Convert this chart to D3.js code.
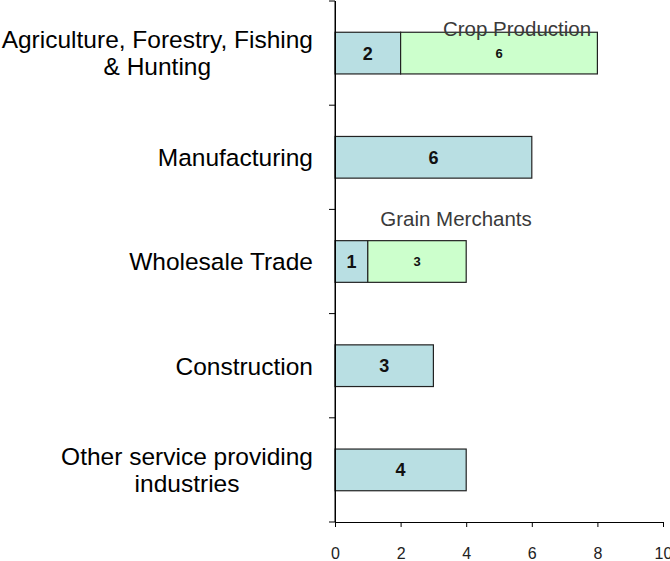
<!DOCTYPE html>
<head>
<meta charset="utf-8" />
<script src="https://d3js.org/d3.v7.min.js"></script>
<style>
  body { margin: 0; background: #fff; }
  text { font-family: "Liberation Sans", Arial, sans-serif; }
  .axis path, .axis line { stroke: #000; }
</style>
</head>
<body>
<svg width="670" height="561"></svg>
<script>
  // chart data
  var categories = [
    ["Agriculture, Forestry, Fishing", "& Hunting"],
    ["Manufacturing"],
    ["Wholesale Trade"],
    ["Construction"],
    ["Other service providing", "industries"]
  ];
  var industryValues = [2, 6, 1, 3, 4];
  var subsectorValues = [6, 0, 3, 0, 0];
  var subsectorNames = ["Crop Production", "", "Grain Merchants", "", ""];
  var xTicks = [0, 2, 4, 6, 8, 10];

  var svg = d3.select("svg");
  var plotLeft = 335, plotRight = 663, plotTop = 1, plotBottom = 522;

  var x = d3.scaleLinear().domain([0, 10]).range([plotLeft, plotRight]);
  var y = d3.scaleBand()
    .domain(d3.range(categories.length))
    .range([plotTop, plotBottom])
    .paddingInner(0.6)
    .paddingOuter(0.3);

  var rows = categories.map(function(c, i) {
    return {label: c, a: industryValues[i], b: subsectorValues[i], name: subsectorNames[i], i: i};
  });

  // x axis
  svg.append("g")
    .attr("class", "axis")
    .attr("transform", "translate(0," + plotBottom + ")")
    .call(d3.axisBottom(x).tickValues(xTicks).tickSize(5).tickSizeOuter(0).tickPadding(21))
    .call(function(g) {
      g.selectAll("text").style("font-size", "16px").attr("fill", "#222")
        .style("font-family", "'Liberation Sans', Arial, sans-serif");
    });

  // y axis line + boundary ticks
  svg.append("line")
    .attr("x1", plotLeft).attr("x2", plotLeft)
    .attr("y1", plotTop).attr("y2", plotBottom)
    .attr("stroke", "#000");
  var step = y.step();
  svg.selectAll(".ytick")
    .data(d3.range(categories.length + 1))
    .enter().append("line")
    .attr("x1", plotLeft - 6).attr("x2", plotLeft)
    .attr("y1", function(d) { return plotTop + d * step; })
    .attr("y2", function(d) { return plotTop + d * step; })
    .attr("stroke", "#000");

  var bars = svg.selectAll(".row").data(rows).enter().append("g");

  bars.append("rect")
    .attr("x", x(0))
    .attr("y", function(d) { return y(d.i); })
    .attr("width", function(d) { return x(d.a) - x(0); })
    .attr("height", y.bandwidth())
    .attr("fill", "#b9dfe3")
    .attr("stroke", "#222")
    .attr("stroke-width", 1.2);

  bars.filter(function(d) { return d.b > 0; }).append("rect")
    .attr("x", function(d) { return x(d.a); })
    .attr("y", function(d) { return y(d.i); })
    .attr("width", function(d) { return x(d.a + d.b) - x(d.a); })
    .attr("height", y.bandwidth())
    .attr("fill", "#ccffcc")
    .attr("stroke", "#222")
    .attr("stroke-width", 1.2);

  // thicker left edge
  svg.append("line")
    .attr("x1", plotLeft + 0.5).attr("x2", plotLeft + 0.5)
    .attr("y1", plotTop).attr("y2", plotBottom)
    .attr("stroke", "#000").attr("stroke-width", 1);

  bars.append("text")
    .attr("x", function(d) { return (x(0) + x(d.a)) / 2; })
    .attr("y", function(d) { return y(d.i) + y.bandwidth() / 2; })
    .attr("dy", "0.36em")
    .attr("text-anchor", "middle")
    .style("font-size", "18px")
    .style("font-weight", "bold")
    .attr("fill", "#111")
    .text(function(d) { return d.a; });

  bars.filter(function(d) { return d.b > 0; }).append("text")
    .attr("x", function(d) { return (x(d.a) + x(d.a + d.b)) / 2; })
    .attr("y", function(d) { return y(d.i) + y.bandwidth() / 2; })
    .attr("dy", "0.36em")
    .attr("text-anchor", "middle")
    .style("font-size", "13px")
    .style("font-weight", "bold")
    .attr("fill", "#111")
    .text(function(d) { return d.b; });

  // subsector annotations
  var noteCenter = {0: 5.55, 2: 3.69};
  var noteShift = {0: 4, 2: -15};
  bars.filter(function(d) { return d.name; }).append("text")
    .attr("x", function(d) { return x(noteCenter[d.i]); })
    .attr("y", function(d) { return y(d.i) + noteShift[d.i]; })
    .attr("text-anchor", "middle")
    .style("font-size", "20.5px")
    .attr("fill", "#3a3a3a")
    .text(function(d) { return d.name; });

  // category labels
  var labels = svg.selectAll(".cat").data(rows).enter().append("text")
    .attr("text-anchor", "middle")
    .style("font-size", "24.5px")
    .attr("fill", "#000");
  labels.each(function(d) {
    var t = d3.select(this);
    var n = d.label.length, lh = 27;
    var cy = y(d.i) + y.bandwidth() / 2;
    d.label.forEach(function(line, k) {
      t.append("tspan")
        .attr("x", 0)
        .attr("y", cy + (k - (n - 1) / 2) * lh)
        .attr("dy", "0.36em")
        .text(line);
    });
    var w = this.getBBox().width;
    t.attr("transform", "translate(" + (313 - w / 2) + ",0)");
  });
</script>
</body>
</html>
